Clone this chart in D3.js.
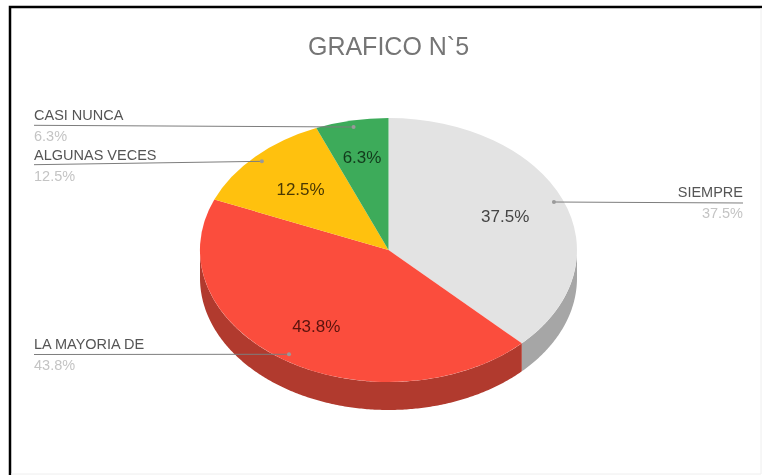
<!DOCTYPE html>
<html>
<head>
<meta charset="utf-8">
<script src="https://cdn.jsdelivr.net/npm/d3@7"></script>
<style>
  html, body { margin: 0; padding: 0; background: #fff; overflow: hidden; }
  svg { display: block; filter: blur(0.45px); }
  text { font-family: "Liberation Sans", Arial, sans-serif; }
</style>
</head>
<body>
<div id="chart"></div>
<script>
const title = 'GRAFICO N`5';
const categories = ['SIEMPRE', 'LA MAYORIA DE', 'ALGUNAS VECES', 'CASI NUNCA'];
const values = [37.5, 43.75, 12.5, 6.25];
const valueLabels = ['37.5%', '43.8%', '12.5%', '6.3%'];
const topColors = ['#e3e3e3', '#fb4d3d', '#ffc10e', '#3dab5a'];
const sideColors = ['#a6a6a6', '#b13a2e', '#b38a0a', '#2b7a40'];
const insideTextColors = ['#444', '#5a130d', '#4a3803', '#123a1c'];

const width = 762;
const height = 475;

// Pie is drawn tilted, so x and y have their own radius
const center = { x: 388.5, y: 250 };
const rx = 188.5;
const ry = 132;
const depth = 28;

const svg = d3.select('#chart')
    .append('svg')
    .attr('width', width)
    .attr('height', height);

// Screenshot frame
svg.append('path')
    .attr('d', 'M10,475V7H762')
    .attr('fill', 'none')
    .attr('stroke', '#000')
    .attr('stroke-width', 2.5);
svg.append('path')
    .attr('d', 'M11,474H761V8')
    .attr('fill', 'none')
    .attr('stroke', '#eee')
    .attr('stroke-width', 1);

svg.append('text')
    .attr('x', 388.5)
    .attr('y', 55)
    .attr('text-anchor', 'middle')
    .attr('font-size', 25)
    .attr('fill', '#757575')
    .text(title);

const slices = d3.pie().sort(null)(values);

const px = a => center.x + rx * Math.sin(a);
const py = a => center.y - ry * Math.cos(a);
const midAngle = s => (s.startAngle + s.endAngle) / 2;

// Point on the tilted pie at a fraction of the radius
const piePoint = (s, k) => {
    const a = midAngle(s);
    return [center.x + k * rx * Math.sin(a), center.y - k * ry * Math.cos(a)];
};

// Side wall, only the front half of the ellipse can be seen
const wallLine = d3.line();
const wall = svg.append('g');
slices.forEach((s, i) => {
    const from = Math.max(s.startAngle, Math.PI / 2);
    const to = Math.min(s.endAngle, Math.PI * 1.5);
    if (from >= to) return;
    const angles = d3.range(from, to, 0.01).concat([to]);
    const rim = angles.map(a => [px(a), py(a)]);
    const lower = angles.map(a => [px(a), py(a) + depth]).reverse();
    wall.append('path')
        .attr('d', wallLine(rim.concat(lower)) + 'Z')
        .attr('fill', sideColors[i]);
});

// Top face
const arc = d3.arc().innerRadius(0).outerRadius(1);
svg.append('g')
    .attr('transform', `translate(${center.x},${center.y}) scale(${rx},${ry})`)
    .selectAll('path')
    .data(slices)
    .enter()
    .append('path')
    .attr('d', arc)
    .attr('fill', (d, i) => topColors[i]);

// Value labels inside the slices, small slices sit further out
const insideRadius = [0.67, 0.69, 0.66, 0.72];
svg.selectAll('.inside')
    .data(slices)
    .enter()
    .append('text')
    .attr('class', 'inside')
    .attr('x', (d, i) => piePoint(d, insideRadius[i])[0])
    .attr('y', (d, i) => piePoint(d, insideRadius[i])[1])
    .attr('dy', '0.36em')
    .attr('text-anchor', 'middle')
    .attr('font-size', 17)
    .attr('fill', (d, i) => insideTextColors[i])
    .text((d, i) => valueLabels[i]);

// Callouts: line from the slice to the edge, name above, percentage below
const callouts = [
    { x: 743, anchor: 'end', lineY: 203, y: 197 },
    { x: 34, anchor: 'start', lineY: 354.5, y: 349 },
    { x: 34, anchor: 'start', lineY: 164.7, y: 160 },
    { x: 34, anchor: 'start', lineY: 125.3, y: 120 }
];

const labels = svg.append('g');
callouts.forEach((c, i) => {
    const end = piePoint(slices[i], 0.95);
    labels.append('line')
        .attr('x1', c.x)
        .attr('y1', c.lineY)
        .attr('x2', end[0])
        .attr('y2', end[1])
        .attr('stroke', '#7d7d7d')
        .attr('stroke-width', 1);
    labels.append('circle')
        .attr('cx', end[0])
        .attr('cy', end[1])
        .attr('r', 2)
        .attr('fill', '#9a9a9a');
    labels.append('text')
        .attr('x', c.x)
        .attr('y', c.y)
        .attr('text-anchor', c.anchor)
        .attr('font-size', 14.5)
        .attr('fill', '#555')
        .text(categories[i]);
    labels.append('text')
        .attr('x', c.x)
        .attr('y', c.y + 21)
        .attr('text-anchor', c.anchor)
        .attr('font-size', 14.5)
        .attr('fill', '#c4c4c4')
        .text(valueLabels[i]);
});
</script>
</body>
</html>
